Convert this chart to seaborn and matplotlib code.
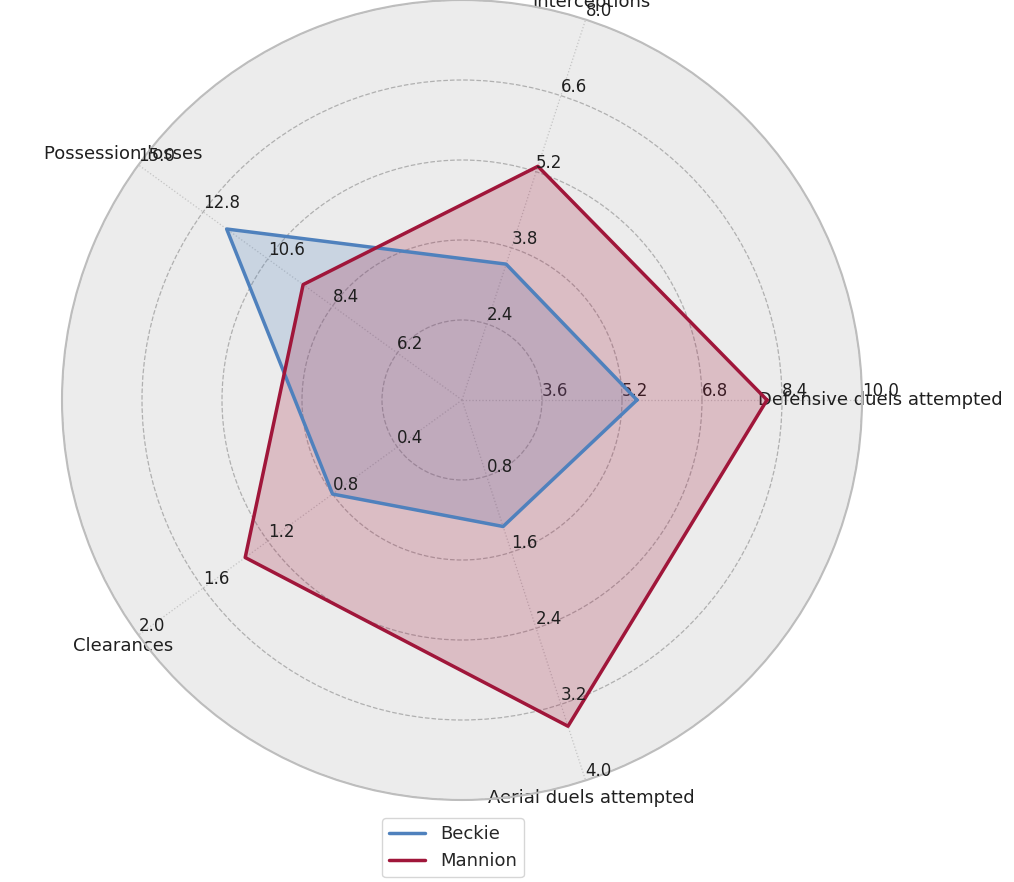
import numpy as np
import matplotlib
matplotlib.use("Agg")
import matplotlib.pyplot as plt
import seaborn as sns

variables = ["Defensive duels attempted", "Interceptions", "Possession losses",
             "Clearances", "Aerial duels attempted"]
ranges = [(2.0, 10.0), (1.0, 8.0), (4.0, 15.0), (0.0, 2.0), (0.0, 4.0)]
players = ["Beckie", "Mannion"]
beckie = [5.5, 3.5, 12.0, 0.8, 1.33]
mannion = [8.1, 5.3, 9.4, 1.34, 3.43]
colors = ["#4f81bd", "#a0163a"]

sns.set_style("whitegrid")
plt.rcParams["font.family"] = ["DejaVu Sans"]


def scale_data(data, ranges):
    # put every variable on the scale of the first axis
    x1, x2 = ranges[0]
    out = [data[0]]
    for d, (y1, y2) in zip(data[1:], ranges[1:]):
        out.append((d - y1) / (y2 - y1) * (x2 - x1) + x1)
    return out


fig = plt.figure(figsize=(10.14, 8.82), dpi=100)
angles = np.arange(0, 360, 360.0 / len(variables))
rect = [62 / 1014, 82 / 882, 800 / 1014, 800 / 882]
axes = [fig.add_axes(rect, polar=True, label="axes{}".format(i)) for i in range(len(variables))]

ax0 = axes[0]
ax0.set_facecolor("#ececec")
ax0.set_thetagrids(angles, labels=variables, fontsize=13, color="#1f1f1f")
ax0.tick_params(axis="x", pad=3)
ax0.xaxis.grid(True, color="#c4c4c4", linestyle=":", linewidth=0.9)
ax0.yaxis.grid(True, color="#b0b0b0", linestyle="--", linewidth=0.9)
ax0.spines["polar"].set_color("#bdbdbd")
ax0.spines["polar"].set_linewidth(1.5)

for ax in axes[1:]:
    ax.patch.set_visible(False)
    ax.grid(False)
    ax.xaxis.set_visible(False)
    ax.spines["polar"].set_visible(False)

for i, ax in enumerate(axes):
    grid = np.linspace(*ranges[i], num=6)
    labels = ["{}".format(round(g, 2)) for g in grid]
    labels[0] = ""
    ax.set_rgrids(grid, labels=labels, angle=angles[i], fontsize=12, color="#1f1f1f")
    ax.set_ylim(*ranges[i])
    if i > 0:
        ax.grid(False)

angle_rad = np.deg2rad(np.r_[angles, angles[0]])
for name, vals, c in zip(players, [beckie, mannion], colors):
    sdata = scale_data(vals, ranges)
    sdata = np.r_[sdata, sdata[0]]
    ax0.plot(angle_rad, sdata, color=c, linewidth=2.5, label=name)
    ax0.fill(angle_rad, sdata, color=c, alpha=0.22)

ax0.set_ylim(*ranges[0])
fig.legend(loc="upper left", bbox_to_anchor=(382 / 1014, 1 - 818 / 882), borderaxespad=0,
           fontsize=13, frameon=True, edgecolor="#cccccc")

plt.savefig("out.png", dpi=100)
